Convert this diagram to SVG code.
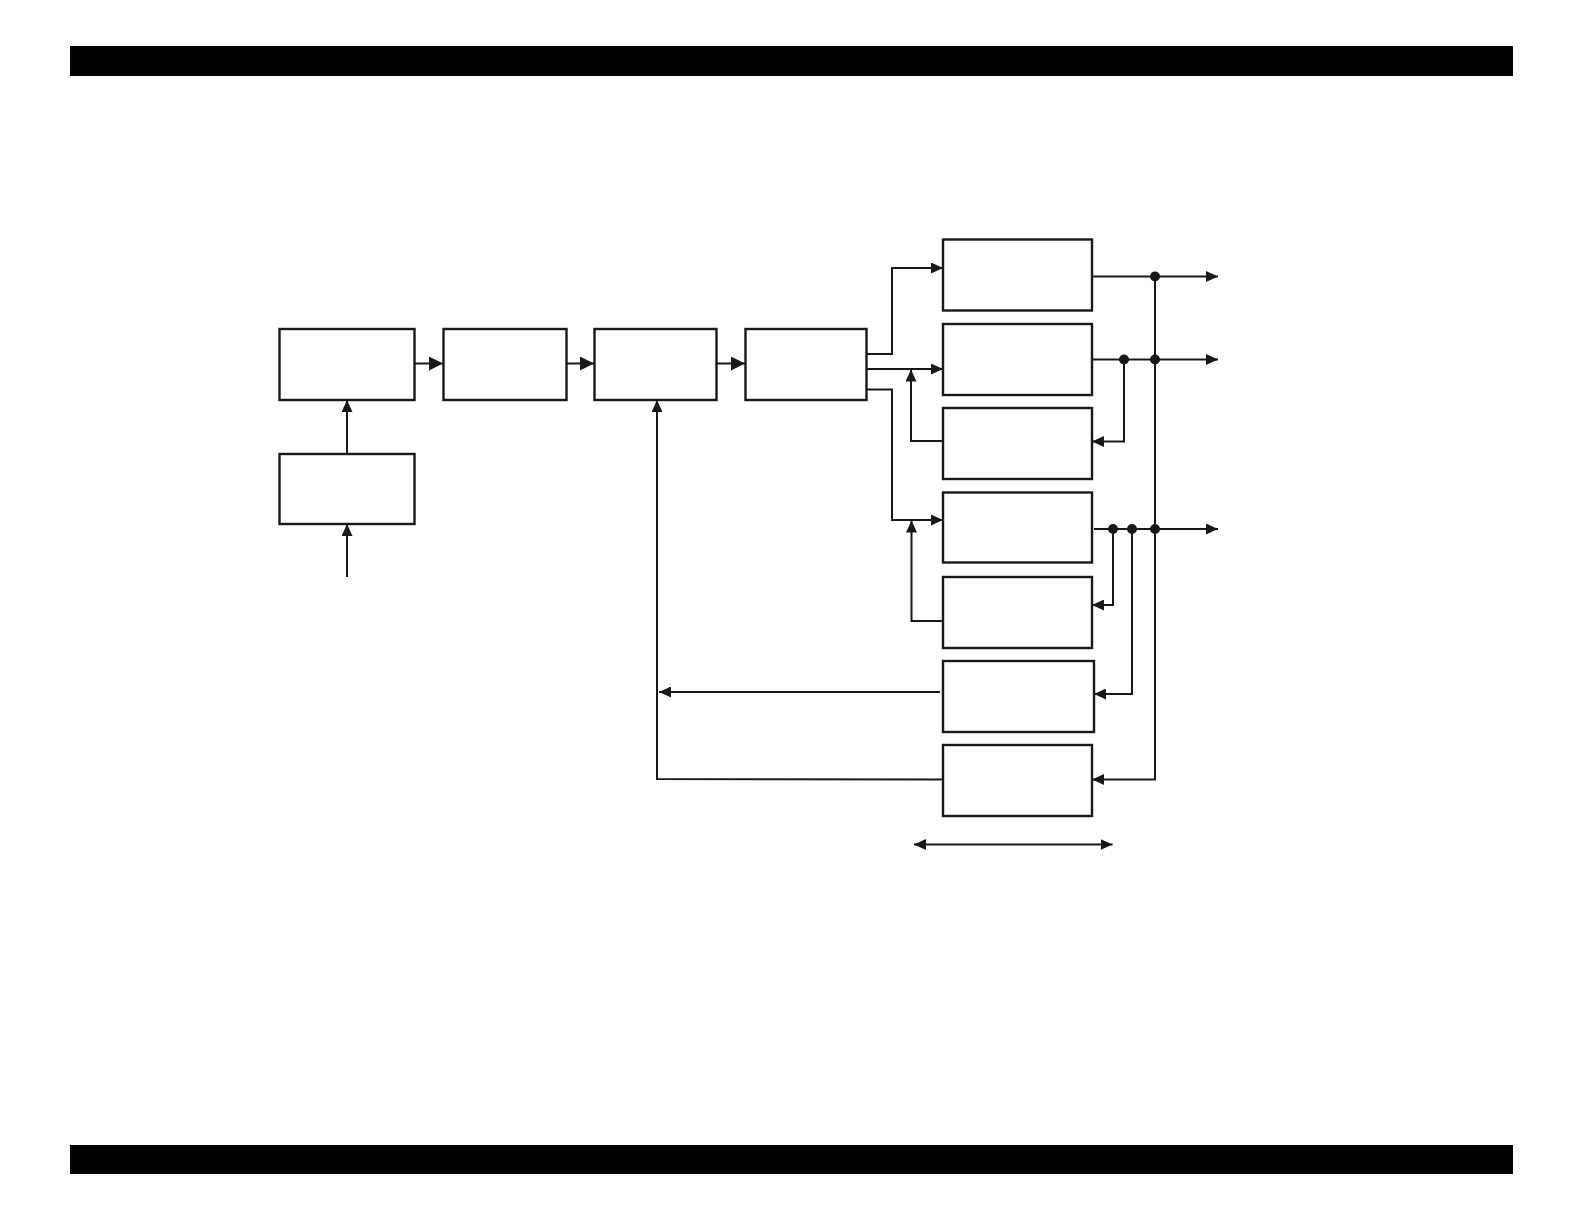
<svg xmlns="http://www.w3.org/2000/svg" width="1582" height="1222" viewBox="0 0 1582 1222">
<style>
.box{fill:#fff;stroke:#1a1718;stroke-width:2.4}
.ln{fill:none;stroke:#1a1718;stroke-width:2}
.ar{fill:none;stroke:#1a1718;stroke-width:2;marker-end:url(#ah)}
.big{marker-end:url(#ahb)}
.dot{fill:#1a1718}
</style>
<defs>
<marker id="ah" viewBox="0 0 12 11" refX="12" refY="5.5" markerWidth="12" markerHeight="11" markerUnits="userSpaceOnUse" orient="auto-start-reverse">
<path d="M0,0 L12,5.5 L0,11 z" fill="#1a1718"/>
</marker>
<marker id="ahb" viewBox="0 0 14 14" refX="14" refY="7" markerWidth="14" markerHeight="14" markerUnits="userSpaceOnUse" orient="auto">
<path d="M0,0 L14,7 L0,14 z" fill="#1a1718"/>
</marker>
</defs>
<rect x="70" y="46" width="1443" height="30" fill="#000"/>
<rect x="70" y="1145" width="1443" height="29" fill="#000"/>
<g id="nA"><rect class="box" x="279.5" y="329" width="135" height="71"/></g>
<g id="nB"><rect class="box" x="443.5" y="329" width="123" height="71"/></g>
<g id="nC"><rect class="box" x="594.5" y="329" width="122" height="71"/></g>
<g id="nD"><rect class="box" x="745.5" y="329" width="121" height="71"/></g>
<g id="nE"><rect class="box" x="279.5" y="454" width="135" height="70"/></g>
<g id="nR1"><rect class="box" x="943" y="239.5" width="149" height="71"/></g>
<g id="nR2"><rect class="box" x="943" y="324" width="149" height="71"/></g>
<g id="nR3"><rect class="box" x="943" y="408" width="149" height="71"/></g>
<g id="nR4"><rect class="box" x="943" y="492.5" width="149" height="70"/></g>
<g id="nR5"><rect class="box" x="943" y="577" width="149" height="71"/></g>
<g id="nR6"><rect class="box" x="943" y="661" width="151" height="71"/></g>
<g id="nR7"><rect class="box" x="943" y="745" width="149" height="71"/></g>
<g id="connectors">
<line class="ar big" x1="414.5" y1="363.5" x2="443" y2="363.5"/>
<line class="ar big" x1="566.5" y1="363.5" x2="594" y2="363.5"/>
<line class="ar big" x1="716.5" y1="363.5" x2="745" y2="363.5"/>
<line class="ar" x1="347" y1="454" x2="347" y2="400"/>
<line class="ar" x1="347" y1="577" x2="347" y2="524"/>
<polyline class="ar" points="867,354 892,354 892,268 943,268"/>
<line class="ar" x1="867" y1="369" x2="943" y2="369"/>
<polyline class="ar" points="867,389.5 892,389.5 892,520 943,520"/>
<polyline class="ar" points="943,441 911,441 911,369.5"/>
<polyline class="ar" points="943,621 911.5,621 911.5,520.5"/>
<line class="ar" x1="1092" y1="276.5" x2="1218" y2="276.5"/>
<line class="ar" x1="1092" y1="359.5" x2="1218" y2="359.5"/>
<line class="ar" x1="1094" y1="529" x2="1218" y2="529"/>
<polyline class="ar" points="1124,359.5 1124,441.5 1092,441.5"/>
<polyline class="ar" points="1155,276.5 1155,779.5 1092,779.5"/>
<polyline class="ar" points="1113,529 1113,605 1092,605"/>
<polyline class="ar" points="1132,529 1132,694 1094,694"/>
<line class="ar" x1="940" y1="692" x2="659" y2="692"/>
<polyline class="ar" points="943,779.5 657,779 657,400"/>
<line class="ar" x1="914" y1="844.5" x2="1112.5" y2="844.5" style="marker-start:url(#ah)"/>
<circle class="dot" cx="1155" cy="276.5" r="5"/>
<circle class="dot" cx="1124" cy="359.5" r="5"/>
<circle class="dot" cx="1155" cy="359.5" r="5"/>
<circle class="dot" cx="1113" cy="529" r="5"/>
<circle class="dot" cx="1132" cy="529" r="5"/>
<circle class="dot" cx="1155" cy="529" r="5"/>
</g>
</svg>
